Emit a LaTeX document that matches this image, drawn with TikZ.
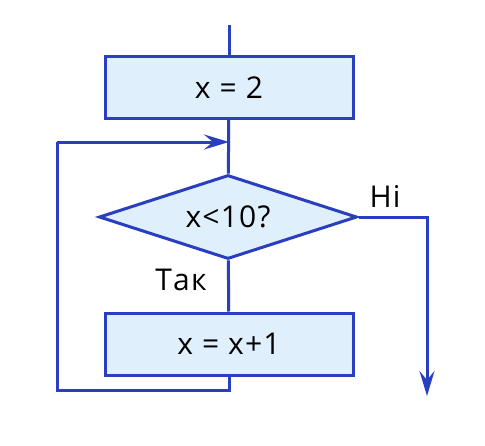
\documentclass[tikz,border=0pt]{standalone}
\usepackage{fontspec}
\setmainfont{Open Sans}[LetterSpace=4]
\usetikzlibrary{shapes.geometric}
\usetikzlibrary{arrows.meta}

\definecolor{lineblue}{HTML}{2A3FBF}
\definecolor{fillblue}{HTML}{DFF0FC}

\begin{document}
\begin{tikzpicture}[x=1pt,y=-1pt,
    every node/.style={font=\fontsize{30}{33}\selectfont},
    block/.style={rectangle,draw=lineblue,fill=fillblue,line width=3pt,minimum width=248pt,minimum height=62pt,inner sep=0pt},
    decision/.style={diamond,aspect=3.07,draw=lineblue,fill=fillblue,line width=3pt,minimum width=258pt,minimum height=84pt,inner sep=0pt},
    flow/.style={draw=lineblue,line width=3pt},
    tip/.style={-{Stealth[length=25pt,width=15pt,inset=9pt]}}]

    \useasboundingbox (0,0) rectangle (485,445);

    \coordinate                (start) at (229, 25);
    \node[block]               (init) at (229, 87.5)      {x = 2};
    \coordinate                (join) at (229, 142);
    \node[decision]            (test) at (228, 217)       {x<10?};
    \node[block]               (step) at (229, 344)       {x = x+1};
    \coordinate                (lb) at (57, 390);
    \coordinate                (lt) at (57, 142);
    \coordinate                (exit) at (427, 396);

    \node                      (no) at (385, 196)         {Ні};
    \node                      (yes) at (181, 280)        {Так};

    \draw[flow] (start) -- (init);
    \draw[flow] (init) -- (test);
    \draw[flow] (test) -- (step);
    \draw[flow] (step.south) |- (lb) -- (lt);
    \draw[flow,tip] (lt) -- (join);
    \draw[flow,tip] (test.east) -| (exit);
  \end{tikzpicture}
\end{document}
